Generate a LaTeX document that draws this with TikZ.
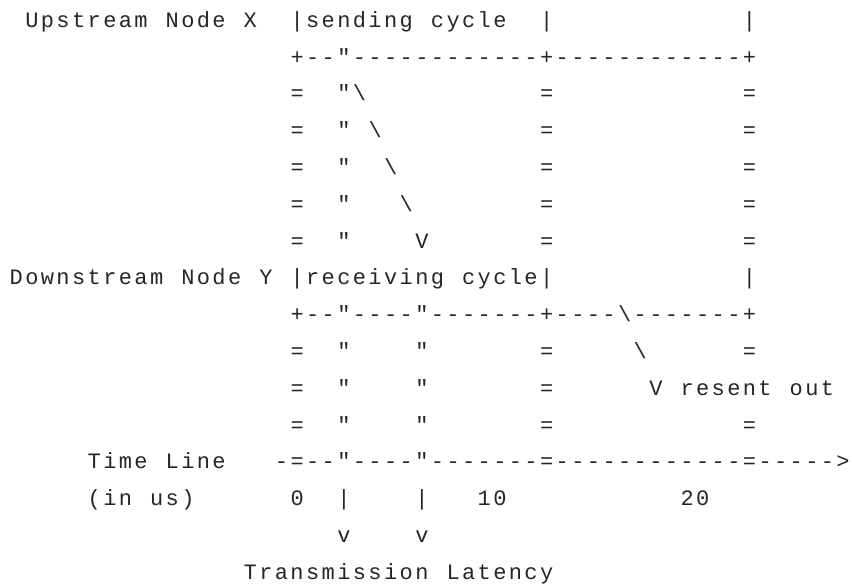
\documentclass[tikz,border=0pt]{standalone}
\usepackage{fontspec}
\newfontfamily\asciifont{Liberation Mono}[Ligatures=TeXOff,LetterSpace=10.91]
\definecolor{ink}{HTML}{262626}
\begin{document}
\begin{tikzpicture}[x=15.6pt, y=-36.8pt,
  ch/.style = {font=\asciifont\fontsize{22pt}{26pt}\selectfont, text=ink, inner sep=0pt, anchor=base west}]
\useasboundingbox (-9.5pt,27.3pt) rectangle (842.5pt,-560.7pt);

% upstream node
\node[ch] (up1) at (1,0) {Upstream};
\node[ch] (up2) at (10,0) {Node};
\node[ch] (up3) at (15,0) {X};
\node[ch] (sb) at (18,0) {|};
\node[ch] (sc1) at (19,0) {sending};
\node[ch] (sc2) at (27,0) {cycle};
\node[ch] (sm) at (34,0) {|};
\node[ch] (se) at (47,0) {|};
\node[ch] (sline) at (18,1) {+--"------------+------------+};

% cycle walls
\foreach \r in {2,...,6,9,10,11} {
  \node[ch] (lw\r) at (18,\r) {=};
  \node[ch] (mw\r) at (34,\r) {=};
  \node[ch] (uq\r) at (21,\r) {"};
}
\foreach \r in {2,...,6,9,11}
  \node[ch] (rw\r) at (47,\r) {=};
\foreach \r in {9,10,11}
  \node[ch] (dq\r) at (26,\r) {"};

% packet sent
\foreach \r/\c in {2/22,3/23,4/24,5/25}
  \node[ch] (bs\r) at (\c,\r) {\textbackslash};
\node[ch] (arr1) at (26,6) {V};

% downstream node
\node[ch] (dn1) at (0,7) {Downstream};
\node[ch] (dn2) at (11,7) {Node};
\node[ch] (dn3) at (16,7) {Y};
\node[ch] (rb) at (18,7) {|};
\node[ch] (rc1) at (19,7) {receiving};
\node[ch] (rc2) at (29,7) {cycle};
\node[ch] (rm) at (34,7) {|};
\node[ch] (re) at (47,7) {|};
\node[ch] (rline) at (18,8) {+--"----"-------+----\textbackslash-------+};

% packet resent
\node[ch] (bs9) at (40,9) {\textbackslash};
\node[ch] (arr2) at (41,10) {V};
\node[ch] (rs1) at (43,10) {resent};
\node[ch] (rs2) at (50,10) {out};

% time line
\node[ch] (tl1) at (5,12) {Time};
\node[ch] (tl2) at (10,12) {Line};
\node[ch] (tline) at (17,12) {-=--"----"-------=------------=----->};
\node[ch] (un1) at (5,13) {(in};
\node[ch] (un2) at (9,13) {us)};
\node[ch] (t0) at (18,13) {0};
\node[ch] (lb1) at (21,13) {|};
\node[ch] (lb2) at (26,13) {|};
\node[ch] (t10) at (30,13) {10};
\node[ch] (t20) at (43,13) {20};
\node[ch] (lv1) at (21,14) {v};
\node[ch] (lv2) at (26,14) {v};
\node[ch] (lat1) at (15,15) {Transmission};
\node[ch] (lat2) at (28,15) {Latency};
\end{tikzpicture}
\end{document}
